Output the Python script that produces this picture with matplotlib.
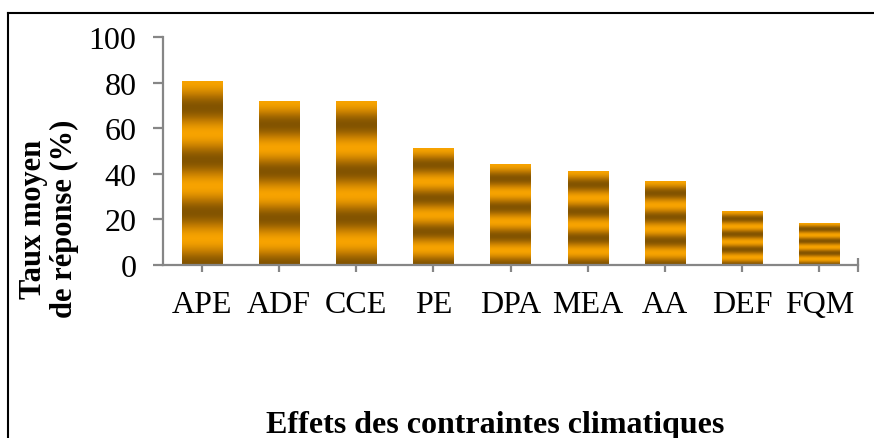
import numpy as np
import matplotlib
matplotlib.use('Agg')
import matplotlib.pyplot as plt
from matplotlib.colors import LinearSegmentedColormap
from matplotlib.lines import Line2D

# Data
categories = ['APE', 'ADF', 'CCE', 'PE', 'DPA', 'MEA', 'AA', 'DEF', 'FQM']
values = [80.5, 71.5, 71.5, 51, 44.2, 40.8, 36.8, 23.4, 18.4]
yticks = [0, 20, 40, 60, 80, 100]

W, H = 874, 439
AXIS_GRAY = '#868686'
BAR_WIDTH = 0.52
N_CYCLES = 3.5

plt.rcParams['font.family'] = ['Liberation Serif', 'DejaVu Serif']

stripe_cmap = LinearSegmentedColormap.from_list(
    'stripes', ['#835400', '#c17b00', '#f7a300'])


def draw_striped_bar(ax, x, h):
    t = np.linspace(0, 1, 400)
    # top of the bar is orange, bottom is dark
    v = 0.5 + 0.5 * np.cos(2 * np.pi * N_CYCLES * (1 - t))
    img = v[:, None]
    ax.imshow(img, cmap=stripe_cmap, vmin=0, vmax=1, aspect='auto',
              extent=(x - BAR_WIDTH / 2, x + BAR_WIDTH / 2, 0, h),
              origin='lower', interpolation='bilinear', zorder=2)


fig = plt.figure(figsize=(W / 100, H / 100), dpi=100)
ax = fig.add_axes([163 / W, 1 - 266 / H, (858 - 163) / W, (266 - 38) / H])

for i, v in enumerate(values):
    draw_striped_bar(ax, i, v)

ax.set_xlim(-0.5, len(categories) - 0.5)
ax.set_ylim(0, 100)

for side in ['top', 'right']:
    ax.spines[side].set_visible(False)
for side in ['left', 'bottom']:
    ax.spines[side].set_color(AXIS_GRAY)
    ax.spines[side].set_linewidth(1.6)

ax.set_yticks(yticks)
ax.set_yticklabels([str(t) for t in yticks])
ax.set_xticks(list(range(len(categories))) + [len(categories) - 0.5])
ax.set_xticklabels(categories + [''])

ax.tick_params(axis='y', direction='out', length=7, width=1.6, color=AXIS_GRAY,
               labelsize=23, pad=12)
ax.tick_params(axis='x', direction='inout', length=10, width=1.6, color=AXIS_GRAY,
               labelsize=23, pad=13)

# Axis titles
fig.text(495 / W, 1 - 433 / H, 'Effets des contraintes climatiques',
         ha='center', va='baseline', fontsize=23, fontweight='bold')
fig.text(49 / W, 1 - 219 / H, 'Taux moyen\nde réponse (%)', rotation=90,
         ha='center', va='center', multialignment='center',
         fontsize=22, fontweight='bold', linespacing=1.12)

# Frame lines (top and left only, as in the source)
fig.add_artist(Line2D([8 / W, 1.0], [1 - 14 / H, 1 - 14 / H],
                      transform=fig.transFigure, color='black', lw=1.5))
fig.add_artist(Line2D([8 / W, 8 / W], [0, 1 - 14 / H],
                      transform=fig.transFigure, color='black', lw=1.5))

fig.savefig('out.png', dpi=100)
